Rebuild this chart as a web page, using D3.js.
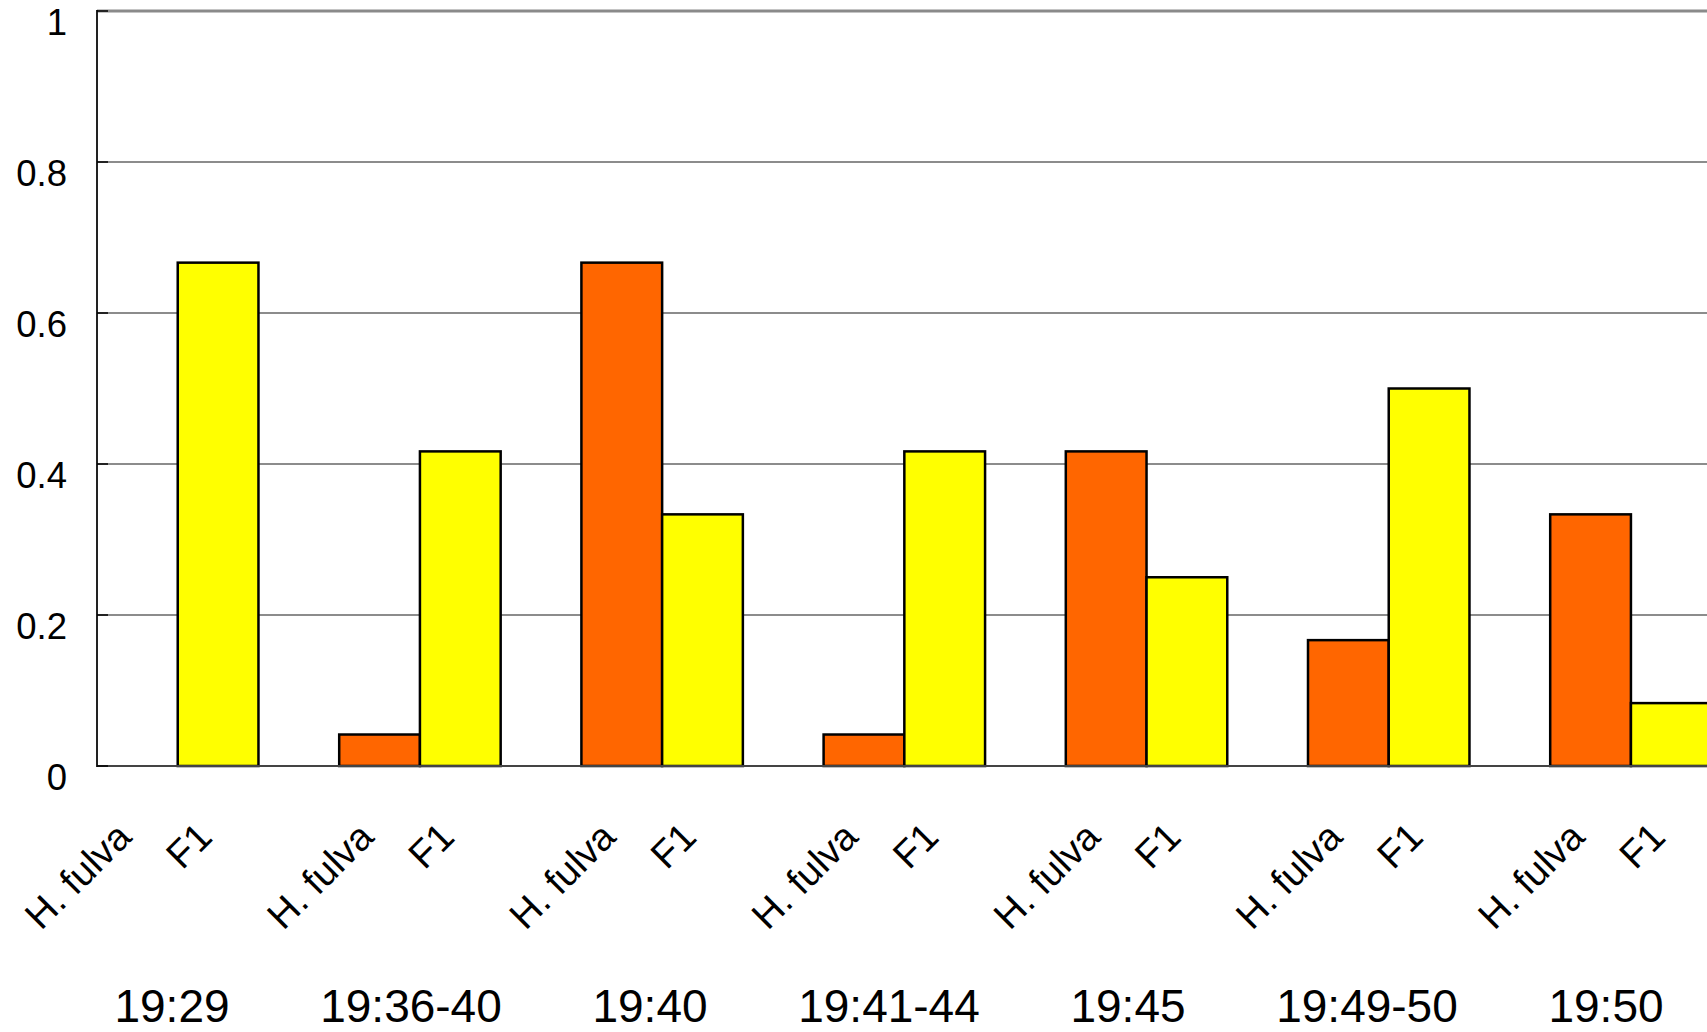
<!DOCTYPE html>
<html>
<head>
<meta charset="utf-8">
<script src="https://cdn.jsdelivr.net/npm/d3@7"></script>
<style>
  html, body { margin: 0; padding: 0; background: #fff; overflow: hidden; }
  svg { display: block; font-family: "Liberation Sans", Arial, Helvetica, sans-serif; }
</style>
</head>
<body>
<svg id="chart" width="1707" height="1032"></svg>
<script>
// Observation times (one group of bars per time)
const times = ["19:29", "19:36-40", "19:40", "19:41-44", "19:45", "19:49-50", "19:50"];
// The two visitor groups compared within each time
const groups = ["H. fulva", "F1"];
// Proportion of visits per time
const hFulva = [0, 0.0417, 0.6667, 0.0417, 0.4167, 0.1667, 0.3333];
const f1     = [0.6667, 0.4167, 0.3333, 0.4167, 0.25, 0.5, 0.0833];
// Y axis ticks
const yTicks = [0, 0.2, 0.4, 0.6, 0.8, 1];
const yTickLabels = ["0", "0.2", "0.4", "0.6", "0.8", "1"];

const colors = { "H. fulva": "#FF6600", "F1": "#FFFF00" };

const svg = d3.select("#chart");
const W = 1707, H = 1032;

const plotLeft = 97, plotRight = W + 2;
const y = d3.scaleLinear().domain([0, 1]).range([766, 11]);

// One band per time; the two bars sit side by side in the middle two thirds
const step = 242.2;
const x = d3.scaleBand()
  .domain(times)
  .range([plotLeft - step / 6, plotLeft - step / 6 + step * times.length])
  .paddingInner(1 / 3)
  .paddingOuter(1 / 6);
const xSub = d3.scaleBand().domain(groups).range([0, x.bandwidth()]);

// Time labels under the categories
const xTime = d3.scalePoint().domain(times).range([172, 1606]);

const rows = times.map((t, i) => ({ time: t, values: [
  { group: "H. fulva", value: hFulva[i] },
  { group: "F1", value: f1[i] }
]}));

// Horizontal gridlines
svg.append("g")
  .selectAll("line")
  .data(yTicks.filter(v => v > 0 && v < 1))
  .join("line")
  .attr("x1", plotLeft).attr("x2", plotRight)
  .attr("y1", d => y(d)).attr("y2", d => y(d))
  .attr("stroke", "#1a1a1a").attr("stroke-width", 1.2);

// Top border of the plot area
svg.append("line")
  .attr("x1", plotLeft).attr("x2", plotRight)
  .attr("y1", y(1)).attr("y2", y(1))
  .attr("stroke", "#8a8a8a").attr("stroke-width", 3);

// Bars
svg.append("g")
  .selectAll("g")
  .data(rows)
  .join("g")
  .attr("transform", d => `translate(${x(d.time)},0)`)
  .selectAll("rect")
  .data(d => d.values.filter(v => v.value > 0))
  .join("rect")
  .attr("x", d => xSub(d.group))
  .attr("width", xSub.bandwidth())
  .attr("y", d => y(d.value))
  .attr("height", d => y(0) - y(d.value))
  .attr("fill", d => colors[d.group])
  .attr("stroke", "#000")
  .attr("stroke-width", 2.5);

// Baseline
svg.append("line")
  .attr("x1", plotLeft).attr("x2", plotRight)
  .attr("y1", y(0)).attr("y2", y(0))
  .attr("stroke", "#444").attr("stroke-width", 2);

// Y axis line with inward ticks
svg.append("line")
  .attr("x1", plotLeft).attr("x2", plotLeft)
  .attr("y1", y(1) - 1).attr("y2", y(0) + 1)
  .attr("stroke", "#222").attr("stroke-width", 2);

svg.append("g")
  .selectAll("line")
  .data(yTicks)
  .join("line")
  .attr("x1", plotLeft).attr("x2", plotLeft + 11)
  .attr("y1", d => y(d)).attr("y2", d => y(d))
  .attr("stroke", "#000").attr("stroke-width", 1.5);

// Y tick labels
svg.append("g")
  .selectAll("text")
  .data(yTicks)
  .join("text")
  .attr("x", 67)
  .attr("y", d => y(d) + 24)
  .attr("text-anchor", "end")
  .attr("font-size", 36.5)
  .attr("fill", "#000")
  .text((d, i) => yTickLabels[i]);

// Rotated group labels under each bar
const subLabels = [];
times.forEach(t => groups.forEach(g => subLabels.push({ time: t, group: g })));
svg.append("g")
  .selectAll("text")
  .data(subLabels)
  .join("text")
  .attr("transform", d => {
    const cx = x(d.time) + xSub(d.group) + xSub.bandwidth() / 2 - 4;
    return `translate(${cx},839) rotate(-45)`;
  })
  .attr("text-anchor", "end")
  .attr("font-size", 38.5)
  .attr("fill", "#000")
  .text(d => d.group);

// Time labels
svg.append("g")
  .selectAll("text")
  .data(times)
  .join("text")
  .attr("x", d => xTime(d))
  .attr("y", 1022)
  .attr("text-anchor", "middle")
  .attr("font-size", 46)
  .attr("fill", "#000")
  .text(d => d);
</script>
</body>
</html>
